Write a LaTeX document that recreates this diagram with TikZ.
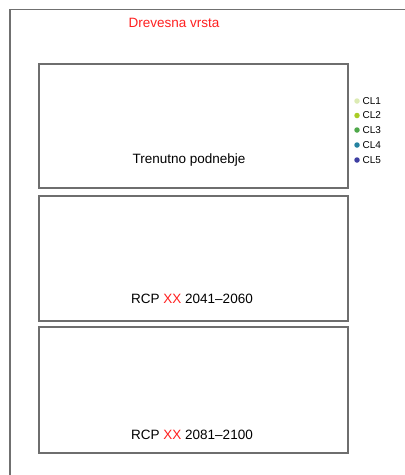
\documentclass[tikz,border=0pt]{standalone}
\usepackage{fontspec}
\setmainfont{Liberation Sans}
\definecolor{framegray}{HTML}{707070}
\definecolor{boxgray}{HTML}{6E6E6E}
\definecolor{labelred}{HTML}{FF2020}
\definecolor{clA}{HTML}{DCEBB4}
\definecolor{clB}{HTML}{A9CC26}
\definecolor{clC}{HTML}{4FA84A}
\definecolor{clD}{HTML}{2582A0}
\definecolor{clE}{HTML}{3E3FA2}
\begin{document}
\begin{tikzpicture}[x=1pt,y=-1pt,
  panel/.style={draw=boxgray,line width=1.5pt,fill=white},
  caption/.style={font=\fontsize{13.5}{15}\selectfont,text=black,inner sep=0pt,anchor=base},
  legdot/.style={circle,inner sep=0pt,minimum size=5.5pt},
  legtext/.style={font=\fontsize{10}{11}\selectfont,anchor=west,inner sep=0pt}]
\useasboundingbox (0,0) rectangle (405,475);
% outer frame, open to the right and bottom
\draw[framegray,line width=1.8pt] (10,480) -- (10,9.5) -- (410,9.5);
\node[caption,text=labelred] (title) at (174,27) {Drevesna vrsta};
% three panels
\draw[panel] (39,64) rectangle (348,188);
\draw[panel] (39,196) rectangle (348,321);
\draw[panel] (39,327) rectangle (348,453);
\node[caption] (p1) at (189,163) {Trenutno podnebje};
\node[caption] (p2) at (192,303) {RCP \textcolor{labelred}{XX} 2041–2060};
\node[caption] (p3) at (192,439) {RCP \textcolor{labelred}{XX} 2081–2100};
% legend
\foreach \c/\t/\y in {clA/CL1/101,clB/CL2/115.5,clC/CL3/130,clD/CL4/145,clE/CL5/160}{
  \node[legdot,fill=\c] (d\t) at (357,\y) {};
  \node[legtext] (l\t) at (362.5,\y) {\t};
}
\end{tikzpicture}
\end{document}
